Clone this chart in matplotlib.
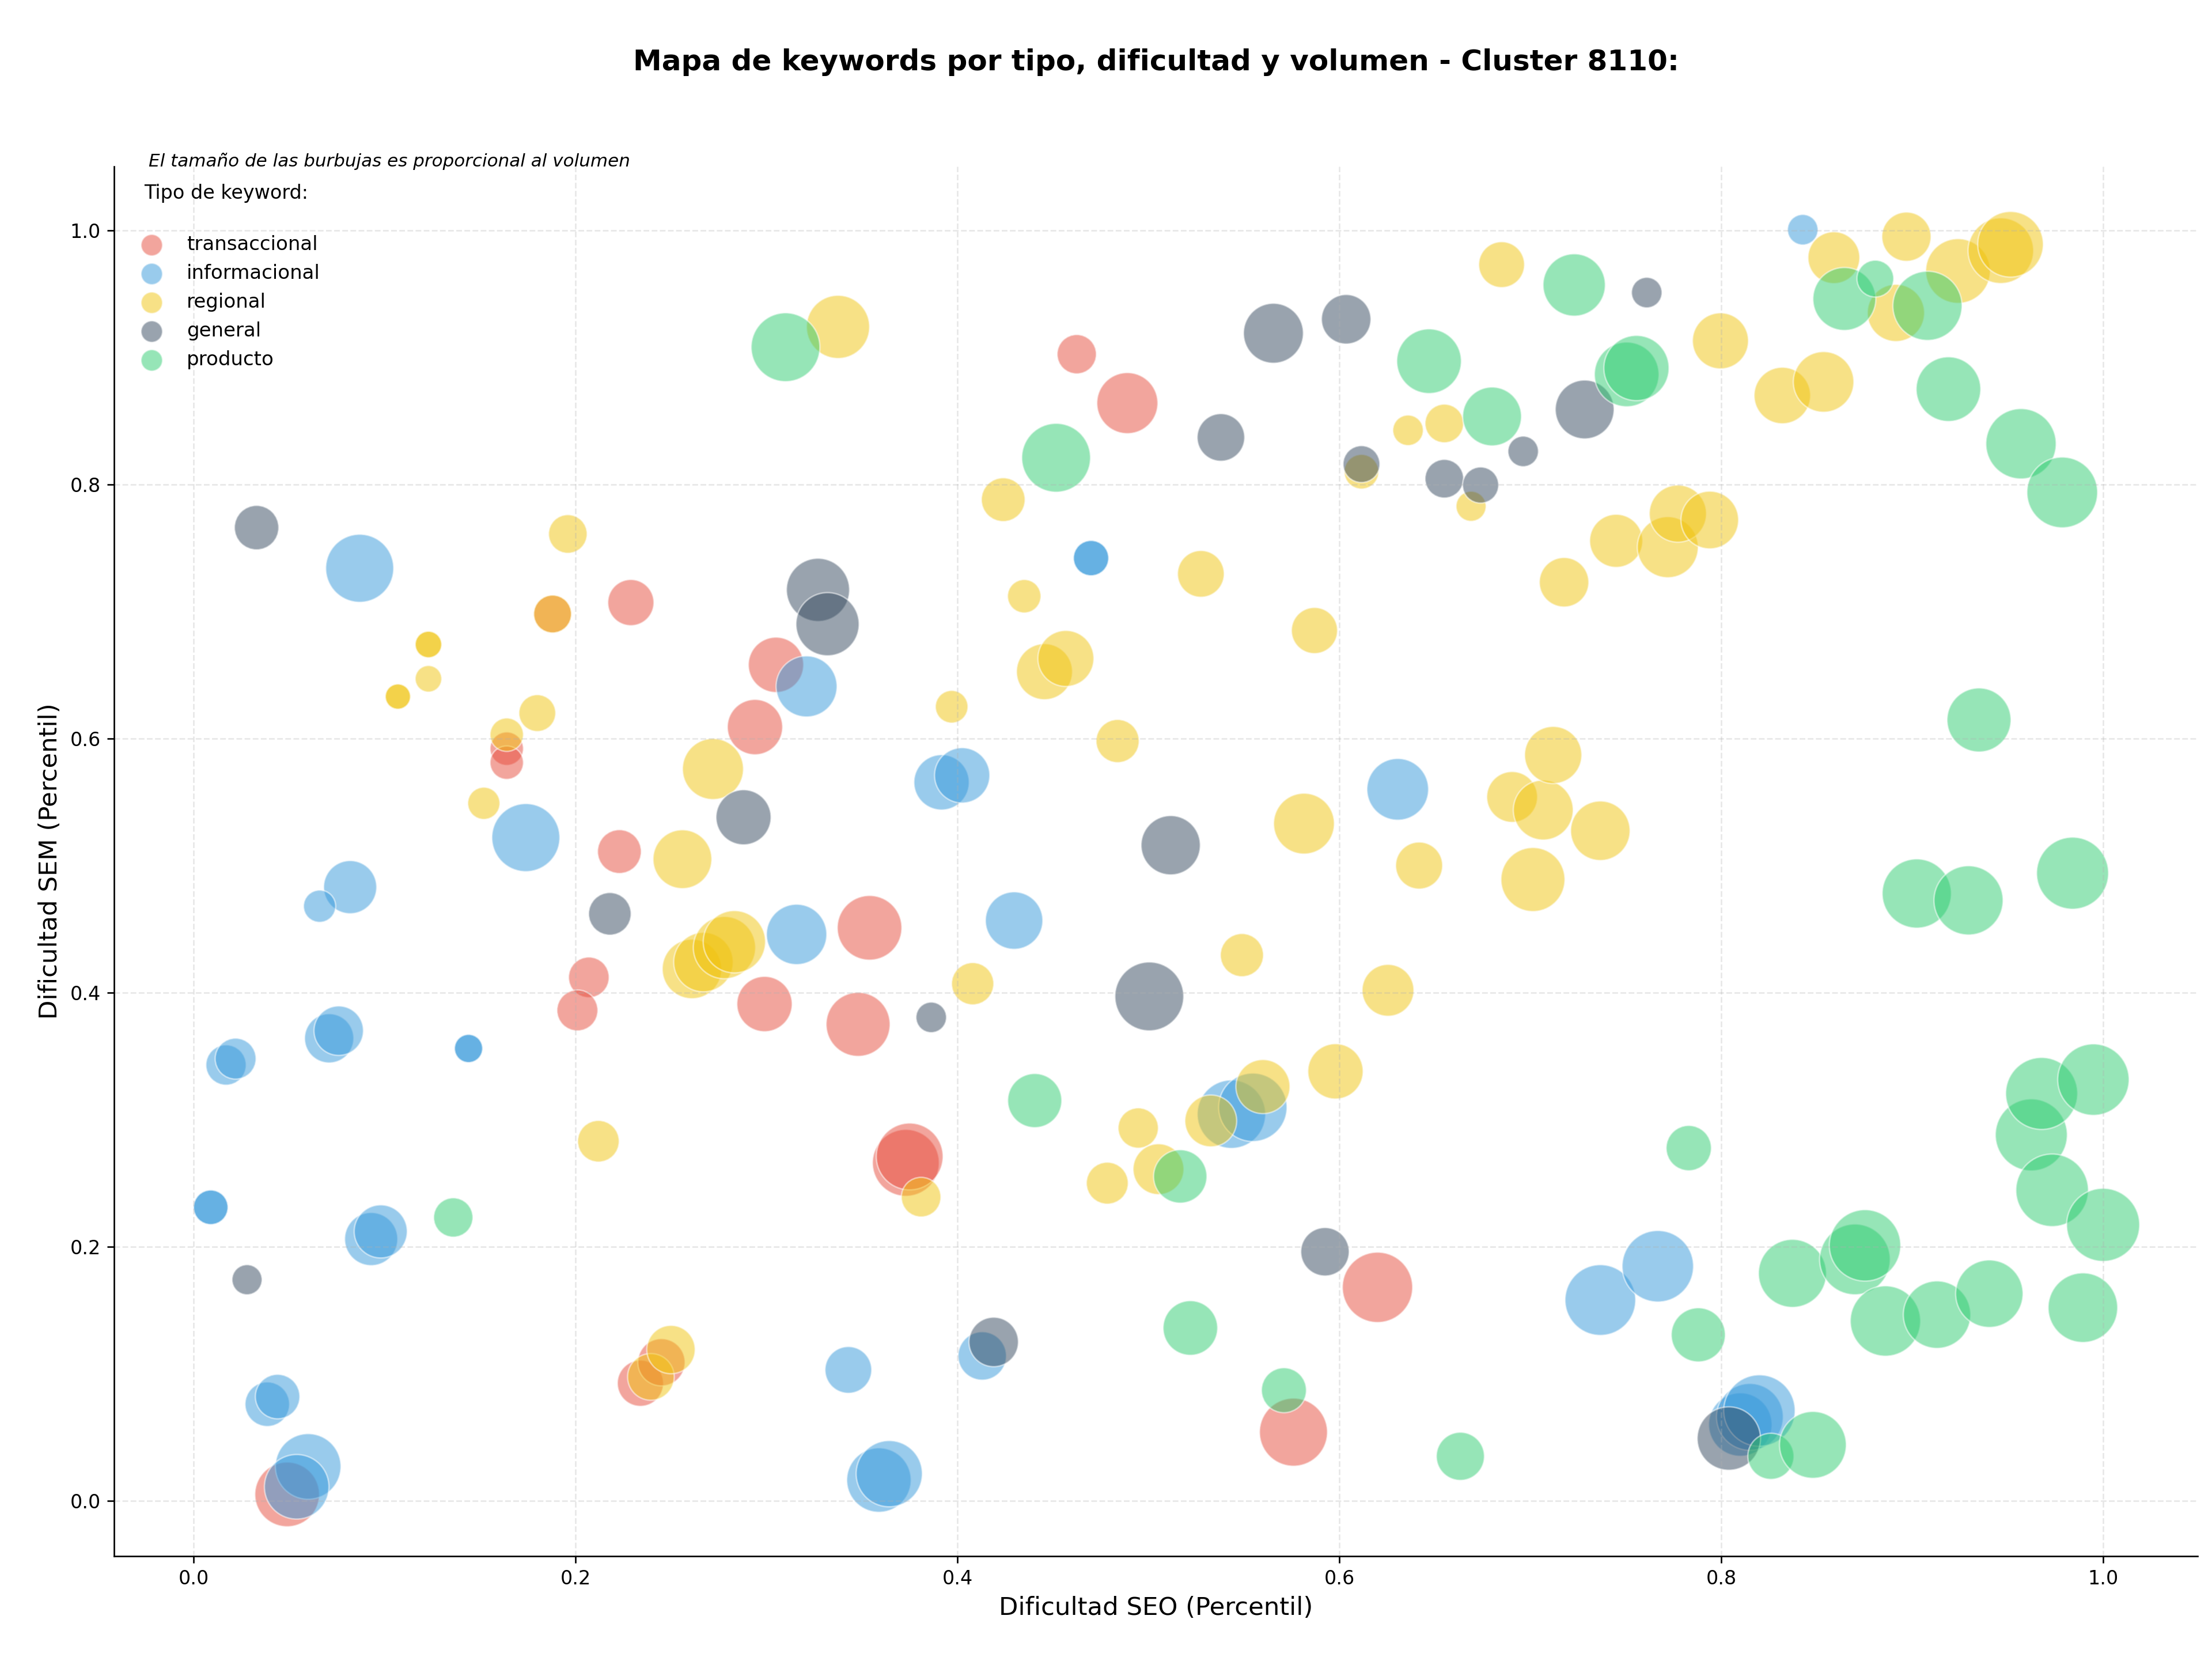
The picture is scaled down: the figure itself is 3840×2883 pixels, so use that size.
import matplotlib
matplotlib.use("Agg")
import matplotlib.pyplot as plt

# ---------------- data ----------------
tipos = ["transaccional", "informacional", "regional", "general", "producto"]
colores = ["#e74c3c", "#3498db", "#f1c40f", "#34495e", "#2ecc71"]

trans_seo = [0.049, 0.164, 0.164, 0.188, 0.229, 0.223, 0.207, 0.201, 0.234, 0.245,
             0.305, 0.294, 0.299, 0.354, 0.348, 0.373, 0.375, 0.4625, 0.489, 0.620, 0.576]
trans_sem = [0.005, 0.592, 0.581, 0.698, 0.707, 0.511, 0.412, 0.386, 0.0925, 0.109,
             0.658, 0.609, 0.391, 0.451, 0.375, 0.266, 0.271, 0.9025, 0.864, 0.168, 0.054]
trans_vol = [1570, 420, 420, 540, 800, 720, 620, 630, 800, 840,
             1150, 1150, 1150, 1570, 1540, 1680, 1680, 580, 1400, 1860, 1740]

info_seo = [0.8427, 0.087, 0.470, 0.470, 0.321, 0.3917, 0.4025, 0.174, 0.082, 0.066,
            0.3158, 0.4297, 0.6306, 0.144, 0.144, 0.017, 0.022, 0.071, 0.076, 0.009,
            0.009, 0.093, 0.098, 0.0386, 0.044, 0.060, 0.054, 0.3429, 0.3589, 0.3643,
            0.413, 0.5435, 0.5547, 0.7367, 0.7668, 0.810, 0.815, 0.820]
info_sem = [1.0005, 0.734, 0.742, 0.742, 0.641, 0.5655, 0.571, 0.522, 0.483, 0.468,
            0.4458, 0.4567, 0.560, 0.356, 0.356, 0.343, 0.348, 0.364, 0.370, 0.231,
            0.231, 0.206, 0.212, 0.076, 0.082, 0.027, 0.011, 0.103, 0.0163, 0.0213,
            0.114, 0.3043, 0.3097, 0.158, 0.1846, 0.060, 0.066, 0.071]
info_vol = [350, 1740, 470, 470, 1400, 1150, 1150, 1740, 1060, 390,
            1370, 1240, 1430, 300, 300, 610, 630, 910, 920, 450,
            450, 1060, 1060, 745, 745, 1620, 1570, 820, 1560, 1650,
            880, 1760, 1760, 1880, 1920, 1510, 1680, 1920]

reg_seo = [0.107, 0.107, 0.123, 0.123, 0.123, 0.188, 0.196, 0.164, 0.180, 0.152,
           0.212, 0.2395, 0.250, 0.3375, 0.272, 0.256, 0.261, 0.267, 0.278, 0.2832,
           0.381, 0.397, 0.408, 0.424, 0.435, 0.4456, 0.4568, 0.4839, 0.4785, 0.4947,
           0.5053, 0.5275, 0.5327, 0.549, 0.560, 0.587, 0.5815, 0.598, 0.6116, 0.6255,
           0.636, 0.6418, 0.655, 0.669, 0.685, 0.6905, 0.7014, 0.7068, 0.712, 0.7177,
           0.7367, 0.745, 0.772, 0.7773, 0.794, 0.7996, 0.832, 0.8536, 0.859, 0.8915,
           0.897, 0.924, 0.9464, 0.9515]
reg_sem = [0.633, 0.633, 0.674, 0.674, 0.647, 0.698, 0.761, 0.603, 0.620, 0.549,
           0.283, 0.0975, 0.119, 0.924, 0.576, 0.505, 0.4186, 0.424, 0.4354, 0.440,
           0.239, 0.625, 0.407, 0.788, 0.712, 0.6526, 0.663, 0.598, 0.250, 0.2934,
           0.261, 0.7296, 0.299, 0.4295, 0.326, 0.685, 0.533, 0.338, 0.810, 0.4018,
           0.8426, 0.500, 0.848, 0.7828, 0.973, 0.554, 0.489, 0.5437, 0.587, 0.723,
           0.5274, 0.7556, 0.7506, 0.777, 0.772, 0.913, 0.870, 0.8807, 0.9785, 0.935,
           0.995, 0.968, 0.984, 0.989]
reg_vol = [240, 240, 265, 265, 265, 540, 560, 420, 510, 390,
           650, 820, 880, 1500, 1400, 1300, 1330, 1330, 1460, 1460,
           590, 400, 670, 720, 420, 1180, 1180, 700, 660, 610,
           970, 820, 1010, 700, 1100, 800, 1390, 1150, 450, 1010,
           350, 830, 560, 340, 790, 970, 1540, 1350, 1230, 920,
           1330, 1060, 1400, 1230, 1250, 1180, 1200, 1380, 1010, 1230,
           910, 1570, 1620, 1620]

gen_seo = [0.033, 0.028, 0.218, 0.288, 0.327, 0.332, 0.3863, 0.419, 0.5005, 0.5117,
           0.538, 0.5655, 0.6036, 0.5925, 0.6116, 0.655, 0.674, 0.6963, 0.7285, 0.761, 0.804]
gen_sem = [0.766, 0.174, 0.462, 0.538, 0.717, 0.690, 0.3805, 0.125, 0.397, 0.516,
           0.837, 0.919, 0.930, 0.196, 0.816, 0.8045, 0.7995, 0.826, 0.859, 0.951, 0.049]
gen_vol = [740, 340, 680, 1140, 1500, 1500, 350, 920, 1780, 1320,
           850, 1350, 920, 880, 510, 560, 490, 350, 1300, 350, 1510]

prod_seo = [0.136, 0.310, 0.4405, 0.4517, 0.5167, 0.522, 0.571, 0.647, 0.6634, 0.680,
            0.723, 0.7505, 0.7556, 0.783, 0.788, 0.826, 0.8373, 0.848, 0.8645, 0.8807,
            0.870, 0.8753, 0.886, 0.9024, 0.908, 0.913, 0.919, 0.9295, 0.935, 0.9404,
            0.957, 0.9624, 0.9678, 0.9733, 0.9786, 0.984, 0.9894, 0.9949, 1.0]
prod_sem = [0.223, 0.908, 0.315, 0.821, 0.2553, 0.136, 0.087, 0.897, 0.035, 0.8535,
            0.957, 0.8866, 0.8916, 0.2776, 0.1306, 0.035, 0.179, 0.044, 0.946, 0.962,
            0.190, 0.201, 0.1415, 0.478, 0.9406, 0.1465, 0.875, 0.4726, 0.6146, 0.163,
            0.832, 0.288, 0.3206, 0.2444, 0.7937, 0.494, 0.152, 0.3315, 0.2172]
prod_vol = [580, 1780, 1100, 1780, 1070, 1120, 760, 1570, 870, 1300,
            1460, 1570, 1600, 770, 1100, 800, 1740, 1680, 1490, 510,
            1880, 1920, 1860, 1800, 1800, 1710, 1570, 1800, 1540, 1710,
            1860, 1950, 1950, 1980, 1880, 1950, 1820, 1920, 2010]

series = [
    (trans_seo, trans_sem, trans_vol),
    (info_seo, info_sem, info_vol),
    (reg_seo, reg_sem, reg_vol),
    (gen_seo, gen_sem, gen_vol),
    (prod_seo, prod_sem, prod_vol),
]

titulo = "Mapa de keywords por tipo, dificultad y volumen - Cluster 8110:"
nota = "El tamaño de las burbujas es proporcional al volumen"

# ---------------- plot ----------------
plt.rcParams['font.family'] = ['DejaVu Sans']
fig = plt.figure(figsize=(16, 12.0125), dpi=240)
ax = fig.add_axes([0.0516, 0.0632, 0.942, 0.8366])

escala = 0.72
for (xs, ys, vs), tipo, col in zip(series, tipos, colores):
    ax.scatter(xs, ys, s=[v * escala for v in vs], c=col, alpha=0.5,
               edgecolors='white', linewidths=0.8, label=tipo)

ax.set_xlim(-0.0416, 1.0496)
ax.set_ylim(-0.0435, 1.0503)
ax.set_xticks([0.0, 0.2, 0.4, 0.6, 0.8, 1.0])
ax.set_yticks([0.0, 0.2, 0.4, 0.6, 0.8, 1.0])
ax.tick_params(labelsize=10)
ax.grid(True, linestyle='--', alpha=0.3)
ax.spines['top'].set_visible(False)
ax.spines['right'].set_visible(False)

ax.set_xlabel("Dificultad SEO (Percentil)", fontsize=13)
ax.set_ylabel("Dificultad SEM (Percentil)", fontsize=13)
ax.set_title(titulo, fontsize=15, fontweight='bold', pad=50)

leg = ax.legend(title="Tipo de keyword:\n", loc='upper left', frameon=False,
                fontsize=10.2, title_fontsize=10)
for h in leg.legend_handles:
    h.set_sizes([125])

ax.text(0.0165, 1.0, nota, transform=ax.transAxes, fontsize=9.3,
        style='italic', va='baseline', ha='left')

fig.savefig("out.png", dpi=240)
